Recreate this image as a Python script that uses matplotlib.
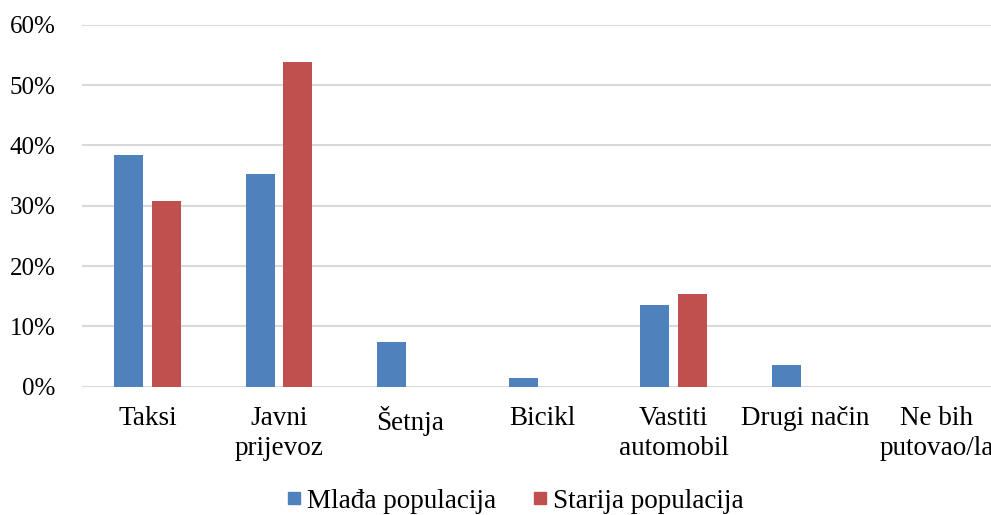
import numpy as np
import matplotlib.pyplot as plt
from matplotlib.lines import Line2D

plt.rcParams['font.family'] = ['Liberation Serif', 'DejaVu Serif']

# Data
categories = ['Taksi', 'Javni\nprijevoz', 'Šetnja', 'Bicikl', 'Vastiti\nautomobil',
              'Drugi način', 'Ne bih\nputovao/la']
mlada = [38.4, 35.3, 7.4, 1.4, 13.5, 3.6, 0.0]
starija = [30.7, 53.8, 0.0, 0.0, 15.3, 0.0, 0.0]
series_names = ['Mlađa populacija', 'Starija populacija']

blue = '#4F81BD'
red = '#C0504D'
fs = 19.5

fig = plt.figure(figsize=(9.91, 5.15), dpi=100)
W, H = 991, 515
ax = fig.add_axes([81.75 / W, (H - 386.7) / H, 920.5 / W, (386.7 - 24.7) / H])

x = np.arange(len(categories))
bw = 0.22
off = 0.143
ax.bar(x - off, np.array(mlada) / 100, bw, color=blue, zorder=3)
ax.bar(x + off, np.array(starija) / 100, bw, color=red, zorder=3)

ax.set_xlim(-0.5, len(categories) - 0.5)
ax.set_ylim(0, 0.6)
ax.set_yticks(np.arange(0, 0.61, 0.1))
ax.set_yticklabels([f'{int(round(v * 100))}%' for v in np.arange(0, 0.61, 0.1)])
ax.set_xticks(x)
ax.set_xticklabels(categories, linespacing=1.25)

ax.grid(axis='y', color='#d9d9d9', linewidth=1.5, zorder=0)
for s in ax.spines.values():
    s.set_visible(False)
ax.tick_params(axis='y', length=0, pad=19, labelsize=18)
ax.tick_params(axis='x', length=0, pad=14, labelsize=fs)

# square legend keys like the original
handles = [Line2D([], [], marker='s', linestyle='none', markersize=8.6, color=c)
           for c in (blue, red)]
fig.legend(handles, series_names, loc='lower center', bbox_to_anchor=(516 / W, -0.045),
           ncol=2, frameon=False, fontsize=fs, handlelength=0.45, handletextpad=0.25,
           columnspacing=1.4)

fig.savefig('out.png', dpi=100)
